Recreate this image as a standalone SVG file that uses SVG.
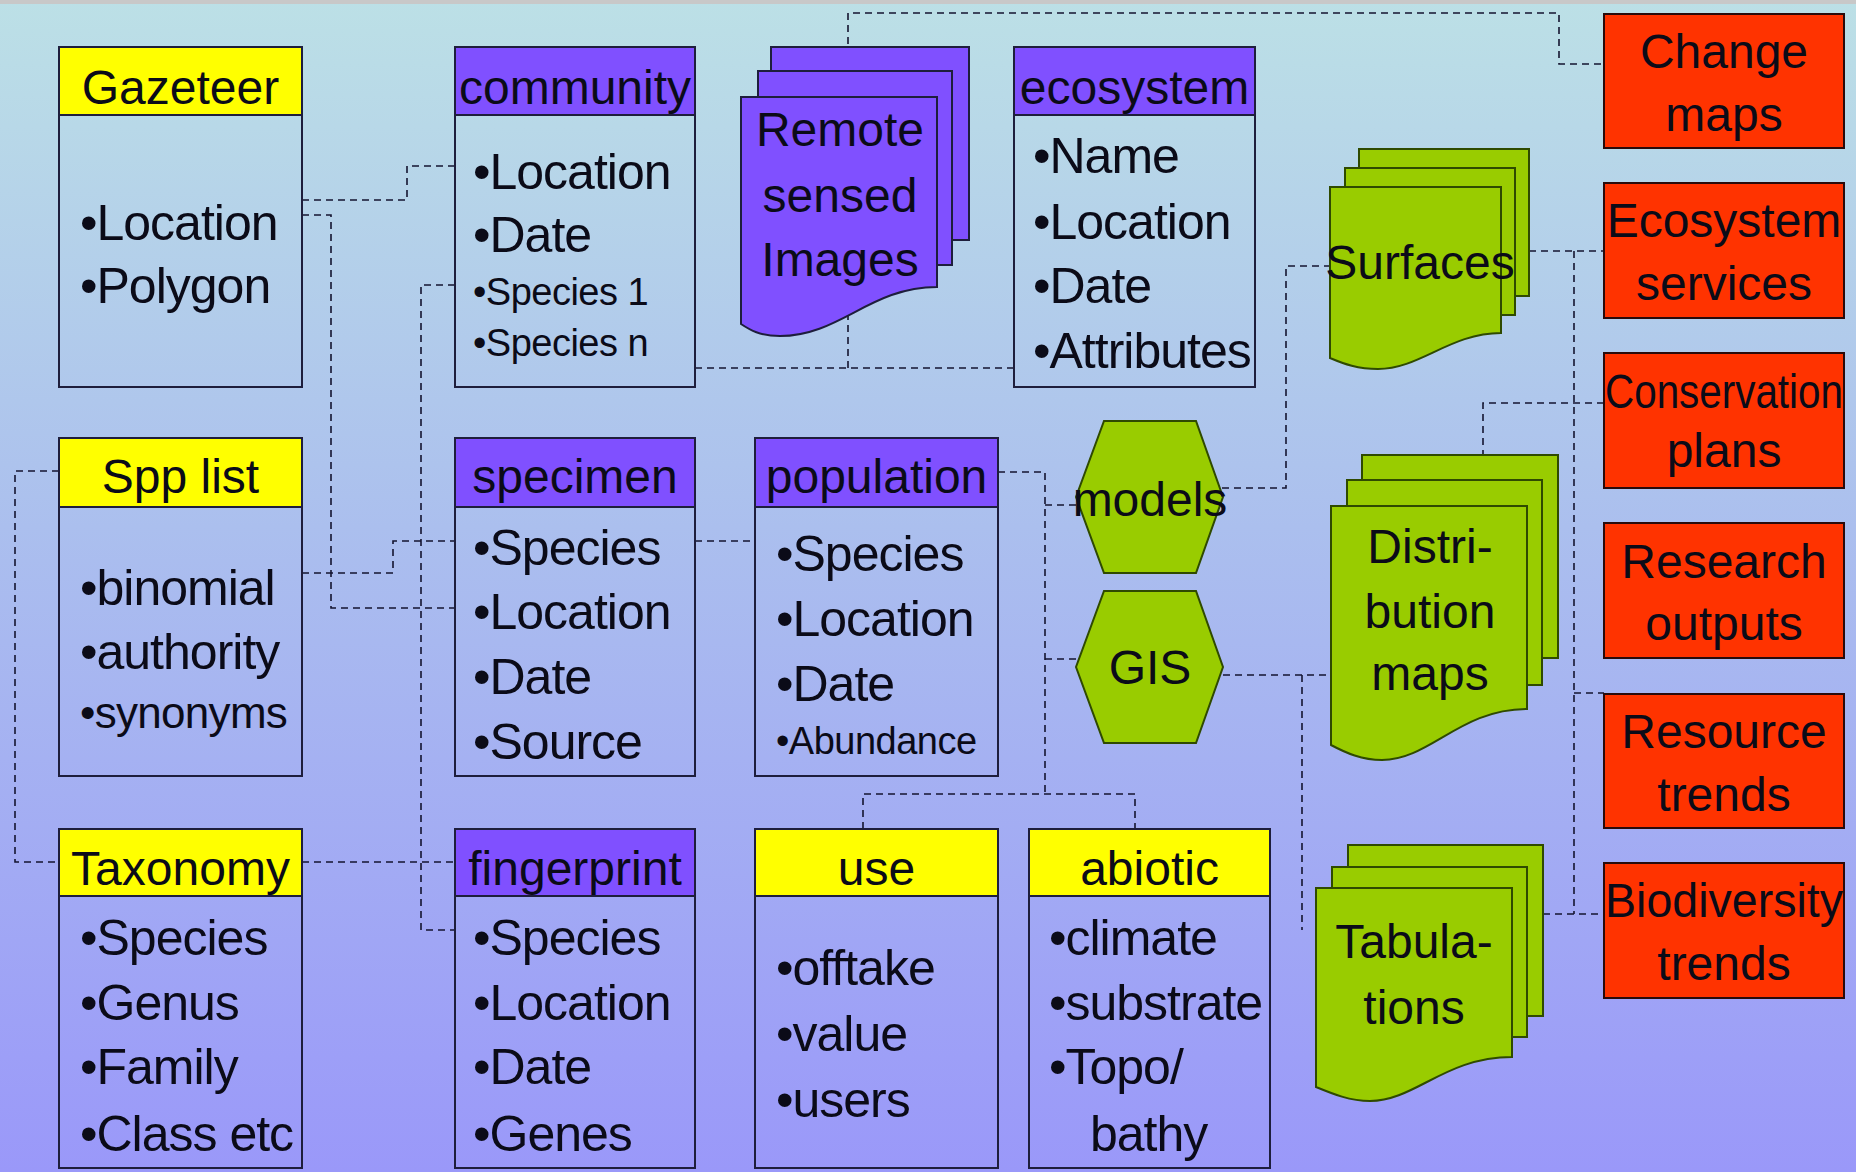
<svg xmlns="http://www.w3.org/2000/svg" width="1856" height="1172" viewBox="0 0 1856 1172">
<defs>
<linearGradient id="bg" x1="0" y1="0" x2="0" y2="1">
<stop offset="0" stop-color="#bce0e6"/>
<stop offset="0.45" stop-color="#abbfee"/>
<stop offset="1" stop-color="#9a98f9"/>
</linearGradient>
</defs>
<style>
text{font-family:"Liberation Sans",Arial,sans-serif;fill:#0b0b18}
.h{font-size:48px;text-anchor:middle}
.m{font-size:48px;text-anchor:middle}
.i{font-size:50px;letter-spacing:-1px}
.s{font-size:38px;letter-spacing:-0.5px}
.body{fill:none;stroke:#1e1e3c;stroke-width:2}
.yel{fill:#ffff00;stroke:#1e1e3c;stroke-width:2}
.pur{fill:#8050ff;stroke:#1e1e3c;stroke-width:2}
.grn{fill:#99cc00;stroke:#2f4a00;stroke-width:2}
.red{fill:#ff3300;stroke:#2a0a0a;stroke-width:2}
.c{fill:none;stroke:#141430;stroke-width:1.6;stroke-dasharray:7 5}
</style>
<rect x="0" y="0" width="1856" height="1172" fill="url(#bg)"/>
<rect x="0" y="0" width="1856" height="4" fill="#c8c8c8"/>

<g id="connectors">
<path class="c" d="M302,200 H407 V166 H455"/>
<path class="c" d="M302,215 H331 V608 H455"/>
<path class="c" d="M455,285 H421 V930 H455"/>
<path class="c" d="M302,573 H393 V541 H455"/>
<path class="c" d="M59,471 H15 V862 H59"/>
<path class="c" d="M302,862 H455"/>
<path class="c" d="M695,368 H1014"/>
<path class="c" d="M848,368 V13 H1559 V64 H1604"/>
<path class="c" d="M695,541 H755"/>
<path class="c" d="M998,472 H1045 V794"/>
<path class="c" d="M1045,505 H1080"/>
<path class="c" d="M1045,659 H1079"/>
<path class="c" d="M863,829 V794 H1135 V829"/>
<path class="c" d="M1222,488 H1286 V266 H1330"/>
<path class="c" d="M1223,675 H1332"/>
<path class="c" d="M1302,675 V930"/>
<path class="c" d="M1529,251 H1604"/>
<path class="c" d="M1574,251 V914"/>
<path class="c" d="M1574,693 H1604"/>
<path class="c" d="M1543,914 H1604"/>
<path class="c" d="M1604,403 H1483 V455"/>
</g>

<g id="gazeteer">
<rect class="body" x="59" y="47" width="243" height="340"/>
<rect class="yel" x="59" y="47" width="243" height="68"/>
<text class="h" x="180.5" y="104">Gazeteer</text>
<text class="i" x="80" y="240">•Location</text>
<text class="i" x="80" y="303">•Polygon</text>
</g>

<g id="community">
<rect class="body" x="455" y="47" width="240" height="340"/>
<rect class="pur" x="455" y="47" width="240" height="68"/>
<text class="h" x="575" y="104">community</text>
<text class="i" x="473" y="189">•Location</text>
<text class="i" x="473" y="252">•Date</text>
<text class="s" x="473" y="305">•Species 1</text>
<text class="s" x="473" y="356">•Species n</text>
</g>

<g id="remote-sensed-images">
<rect class="pur" x="771" y="47" width="198" height="193"/>
<rect class="pur" x="758" y="71" width="194" height="194"/>
<path class="pur" d="M741,97 H937 V287 C870,287 840,336 780,336 C760,336 750,330 741,324 Z"/>
<text class="m" x="840" y="146">Remote</text>
<text class="m" x="840" y="212">sensed</text>
<text class="m" x="840" y="276">Images</text>
</g>

<g id="ecosystem">
<rect class="body" x="1014" y="47" width="241" height="340"/>
<rect class="pur" x="1014" y="47" width="241" height="68"/>
<text class="h" x="1134.5" y="104">ecosystem</text>
<text class="i" x="1033" y="173">•Name</text>
<text class="i" x="1033" y="239">•Location</text>
<text class="i" x="1033" y="303">•Date</text>
<text class="i" x="1033" y="368">•Attributes</text>
</g>

<g id="spp-list">
<rect class="body" x="59" y="438" width="243" height="338"/>
<rect class="yel" x="59" y="438" width="243" height="69"/>
<text class="h" x="180.5" y="493">Spp list</text>
<text class="i" x="80" y="605">•binomial</text>
<text class="i" x="80" y="669">•authority</text>
<text class="i" x="80" y="728" style="font-size:44px;letter-spacing:-0.7px">•synonyms</text>
</g>

<g id="specimen">
<rect class="body" x="455" y="438" width="240" height="338"/>
<rect class="pur" x="455" y="438" width="240" height="69"/>
<text class="h" x="575" y="493">specimen</text>
<text class="i" x="473" y="565">•Species</text>
<text class="i" x="473" y="629">•Location</text>
<text class="i" x="473" y="694">•Date</text>
<text class="i" x="473" y="759">•Source</text>
</g>

<g id="population">
<rect class="body" x="755" y="438" width="243" height="338"/>
<rect class="pur" x="755" y="438" width="243" height="69"/>
<text class="h" x="876.5" y="493">population</text>
<text class="i" x="776" y="571">•Species</text>
<text class="i" x="776" y="636">•Location</text>
<text class="i" x="776" y="701">•Date</text>
<text class="s" x="776" y="754">•Abundance</text>
</g>

<g id="models">
<path class="grn" d="M1104,421 H1196 L1223,497 L1196,573 H1104 L1076,497 Z"/>
<text class="m" x="1150" y="516">models</text>
</g>

<g id="gis">
<path class="grn" d="M1104,591 H1196 L1223,667 L1196,743 H1104 L1076,667 Z"/>
<text class="m" x="1150" y="684">GIS</text>
</g>

<g id="surfaces">
<rect class="grn" x="1359" y="149" width="170" height="147"/>
<rect class="grn" x="1345" y="168" width="170" height="147"/>
<path class="grn" d="M1330,187 H1501 V333 C1450,333 1420,369 1378,369 C1358,369 1344,364 1330,358 Z"/>
<text class="m" x="1420" y="279">Surfaces</text>
</g>

<g id="distribution-maps">
<rect class="grn" x="1362" y="455" width="196" height="203"/>
<rect class="grn" x="1347" y="480" width="195" height="205"/>
<path class="grn" d="M1331,506 H1527 V709 C1460,709 1430,760 1382,760 C1362,760 1346,753 1331,745 Z"/>
<text class="m" x="1430" y="563">Distri-</text>
<text class="m" x="1430" y="628">bution</text>
<text class="m" x="1430" y="690">maps</text>
</g>

<g id="tabulations">
<rect class="grn" x="1348" y="845" width="195" height="171"/>
<rect class="grn" x="1332" y="867" width="195" height="170"/>
<path class="grn" d="M1316,888 H1512 V1057 C1445,1057 1415,1101 1370,1101 C1350,1101 1333,1094 1316,1087 Z"/>
<text class="m" x="1414" y="958">Tabula-</text>
<text class="m" x="1414" y="1024">tions</text>
</g>

<g id="taxonomy">
<rect class="body" x="59" y="829" width="243" height="339"/>
<rect class="yel" x="59" y="829" width="243" height="67"/>
<text class="h" x="180.5" y="885">Taxonomy</text>
<text class="i" x="80" y="955">•Species</text>
<text class="i" x="80" y="1020">•Genus</text>
<text class="i" x="80" y="1084">•Family</text>
<text class="i" x="80" y="1151">•Class etc</text>
</g>

<g id="fingerprint">
<rect class="body" x="455" y="829" width="240" height="339"/>
<rect class="pur" x="455" y="829" width="240" height="67"/>
<text class="h" x="575" y="885">fingerprint</text>
<text class="i" x="473" y="955">•Species</text>
<text class="i" x="473" y="1020">•Location</text>
<text class="i" x="473" y="1084">•Date</text>
<text class="i" x="473" y="1151">•Genes</text>
</g>

<g id="use">
<rect class="body" x="755" y="829" width="243" height="339"/>
<rect class="yel" x="755" y="829" width="243" height="67"/>
<text class="h" x="876.5" y="885">use</text>
<text class="i" x="776" y="985">•offtake</text>
<text class="i" x="776" y="1051">•value</text>
<text class="i" x="776" y="1117">•users</text>
</g>

<g id="abiotic">
<rect class="body" x="1029" y="829" width="241" height="339"/>
<rect class="yel" x="1029" y="829" width="241" height="67"/>
<text class="h" x="1149.5" y="885">abiotic</text>
<text class="i" x="1049" y="955">•climate</text>
<text class="i" x="1049" y="1020">•substrate</text>
<text class="i" x="1049" y="1084">•Topo/</text>
<text class="i" x="1090" y="1151">bathy</text>
</g>

<g id="change-maps">
<rect class="red" x="1604" y="14" width="240" height="134"/>
<text class="m" x="1724" y="68">Change</text>
<text class="m" x="1724" y="131">maps</text>
</g>

<g id="ecosystem-services">
<rect class="red" x="1604" y="183" width="240" height="135"/>
<text class="m" x="1724" y="237">Ecosystem</text>
<text class="m" x="1724" y="300">services</text>
</g>

<g id="conservation-plans">
<rect class="red" x="1604" y="353" width="240" height="135"/>
<text class="m" x="1724" y="408" textLength="238" lengthAdjust="spacingAndGlyphs">Conservation</text>
<text class="m" x="1724" y="467">plans</text>
</g>

<g id="research-outputs">
<rect class="red" x="1604" y="523" width="240" height="135"/>
<text class="m" x="1724" y="578">Research</text>
<text class="m" x="1724" y="640">outputs</text>
</g>

<g id="resource-trends">
<rect class="red" x="1604" y="694" width="240" height="134"/>
<text class="m" x="1724" y="748">Resource</text>
<text class="m" x="1724" y="811">trends</text>
</g>

<g id="biodiversity-trends">
<rect class="red" x="1604" y="863" width="240" height="135"/>
<text class="m" x="1724" y="917" textLength="238" lengthAdjust="spacingAndGlyphs">Biodiversity</text>
<text class="m" x="1724" y="980">trends</text>
</g>
</svg>
